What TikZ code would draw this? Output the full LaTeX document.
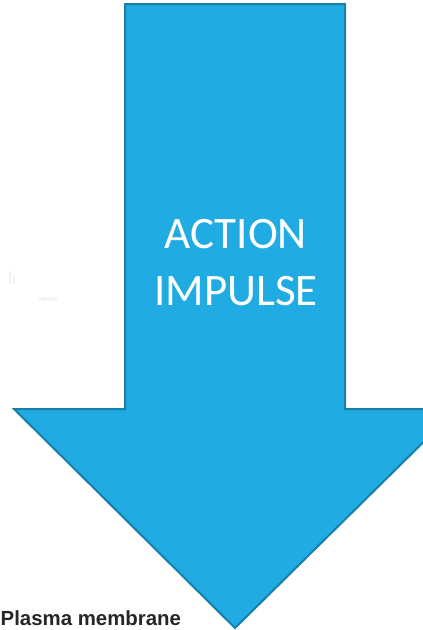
\documentclass[tikz,border=0pt]{standalone}
\usepackage{fontspec}
\usepackage{tikz}
\usetikzlibrary{arrows.meta, calc, positioning}
\newfontfamily\calib{Carlito}
\newfontfamily\arialb{Liberation Sans Bold}

\definecolor{impfill}{RGB}{32,172,226}
\definecolor{impedge}{RGB}{24,126,170}

\tikzset{
  bigarrow/.style={fill=impfill, draw=impedge, line width=2pt, line join=miter},
  arrowtext/.style={text=white, font=\calib\fontsize{45}{54}\selectfont, inner sep=0pt},
  membtext/.style={text=black!85, font=\arialb\fontsize{20.4}{24}\selectfont, inner sep=0pt}
}

\begin{document}
\begin{tikzpicture}[x=1pt, y=-1pt]
  \useasboundingbox (0,0) rectangle (423,630);
  \begin{scope}
    \clip (0,0) rectangle (423,630);
    % the arrow, head runs off the right edge
    \draw[bigarrow] (125,4) -- (345,4) -- (345,409) -- (457,409)
      -- (235,628) -- (14,409) -- (125,409) -- cycle;
    % faint smudges on the left
    \fill[gray!10] (9,271) rectangle (10.5,284);
    \fill[gray!10] (13,276) rectangle (14.5,284);
    \fill[gray!8] (38,297) rectangle (58,301);
    \fill[gray!20] (43,299) circle (1.2);
    % labels
    \node[arrowtext, anchor=base] (act) at (236,248) {ACTION};
    \node[arrowtext, anchor=base] (imp) at ([yshift=-57pt]act.base) {IMPULSE};
    \node[membtext, anchor=base west] (memb) at (0.5,625.5) {Plasma membrane};
  \end{scope}
\end{tikzpicture}
\end{document}
